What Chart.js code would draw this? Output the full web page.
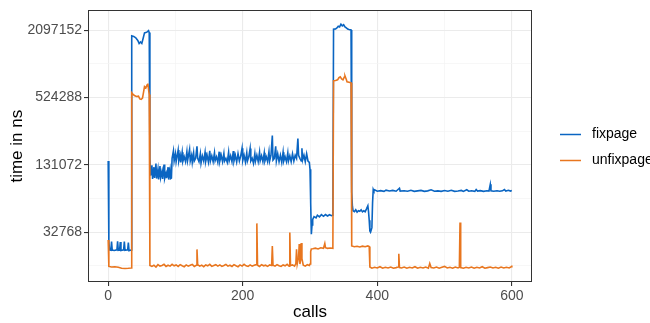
<!DOCTYPE html>
<html>
<head>
<meta charset="utf-8">
<script src="https://cdn.jsdelivr.net/npm/chart.js@4.4.1/dist/chart.umd.min.js"></script>
<style>
  html, body { margin: 0; padding: 0; background: #fff; }
  #wrap { width: 650px; height: 323px; }
</style>
</head>
<body>
<div id="wrap"><canvas id="timing"></canvas></div>
<script>
// fixpage: calls and time in ns
const fixCalls = [
  0, 1, 2, 4, 5, 6, 9, 13, 14, 15, 17, 18, 19, 23, 24, 25, 29, 30, 31, 34,
  35, 38, 41, 44, 46, 48, 50, 52, 54, 56, 58, 60, 61,
  62, 63, 65, 66, 68, 69, 71, 72, 74, 75, 77, 78, 80, 81, 83, 84, 86, 87, 89, 90, 92, 93, 94,
  95, 97, 98, 100, 101, 104, 105, 107, 108, 110, 111, 113, 115, 117, 118, 121, 122, 124, 125, 127, 128, 130,
  132, 133, 135, 137, 138, 140, 142, 144, 145, 147, 149, 151, 152, 154, 156, 158, 159, 161, 163, 165, 166,
  168, 170, 172, 173, 175, 177, 179, 180, 182, 184, 186, 187, 189, 191, 193, 195, 197, 199, 200, 202, 204,
  206, 207, 209, 211, 212, 214, 216, 218, 219, 221, 223, 225, 226, 228, 230, 232, 233, 235, 237, 239, 240,
  242, 244, 245, 247, 249, 250, 252, 254, 256, 258, 260, 261, 263, 265, 267, 268, 270, 272, 274, 276, 278,
  280, 282, 283, 285, 287, 288, 289, 291, 293, 295, 297, 299,
  300, 301, 302, 303, 304, 306, 309, 311, 314, 317, 320, 323, 326, 329, 332, 334,
  335, 338, 340, 342, 344, 346, 348, 350, 352, 354, 356, 358, 361,
  362, 363, 364, 366, 368, 370, 372, 374, 376, 378, 380, 382, 384, 386, 387, 388, 389, 390, 392, 393, 394,
  395, 396, 400, 405, 410, 413, 418, 423, 428, 433, 434, 440, 445, 450, 455, 460, 465, 470, 475, 480, 485,
  490, 495, 500, 505, 510, 515, 520, 525, 528, 533, 536, 540, 545, 547, 549, 553, 558, 563, 566, 568, 569,
  573, 578, 582, 586, 589, 591, 595, 598, 600
];
const fixTime = [
  142000, 27000, 22800, 22600, 27000, 22700, 22500, 22800, 27200, 22600, 22700, 26800, 22500, 22800, 27000, 22600, 22800, 26500, 22400, 22700,
  1870000, 1850000, 1800000, 1700000, 1600000, 1650000, 1600000, 1780000, 1990000, 2000000, 2030000, 2080000, 2000000,
  150000, 105000, 130000, 98000, 125000, 100000, 135000, 99000, 120000, 97000, 128000, 101000, 115000, 98000, 132000, 99000, 110000, 100000, 125000, 97000, 118000, 99000, 100000,
  150000, 175000, 142000, 165000, 140000, 178000, 142000, 160000, 138000, 170000, 141000, 155000, 140000, 172000, 143000, 180000, 142000, 160000, 138000, 168000, 142000, 150000,
  192000, 150000, 140000, 165000, 136000, 158000, 142000, 170000, 141000, 160000, 139000, 175000, 142000, 158000, 140000, 168000, 143000, 155000, 138000, 172000, 142000,
  160000, 140000, 166000, 142000, 150000, 138000, 170000, 143000, 158000, 140000, 174000, 142000, 160000, 139000, 165000, 142000, 158000, 185000, 143000, 160000, 139000,
  168000, 142000, 155000, 184000, 142000, 150000, 135000, 165000, 142000, 160000, 140000, 170000, 143000, 158000, 140000, 168000, 142000, 155000, 140000, 172000, 142000,
  160000, 240000, 145000, 150000, 192000, 142000, 165000, 140000, 160000, 138000, 170000, 142000, 155000, 140000, 168000, 142000, 158000, 140000, 165000, 142000, 160000,
  150000, 226000, 160000, 150000, 142000, 185000, 145000, 160000, 140000, 165000, 142000, 138000,
  120000, 60000, 31500, 38000, 42600, 45200, 44000, 46500, 45000, 47000, 45500, 47100, 45800, 47000, 46000, 46500,
  2150000, 2160000, 2200000, 2280000, 2250000, 2380000, 2300000, 2350000, 2250000, 2200000, 2150000, 2130000, 2110000,
  75000, 56000, 51000, 50000, 52000, 49500, 51000, 50500, 52000, 49800, 51000, 50000, 53000, 56400, 50000, 42000, 33500, 32700, 36000, 60000, 79400,
  77000, 78500, 76300, 77200, 76000, 78000, 76500, 77500, 76200, 81000, 76500, 77000, 76200, 77800, 76000, 76800, 77500, 76000, 76800, 78500, 76300,
  76800, 76000, 77300, 76200, 77800, 76000, 76500, 77500, 76000, 78500, 76200, 77000, 76000, 79000, 76500, 77200, 76000, 77000, 76500, 87800, 77000,
  76200, 77000, 76200, 76800, 79000, 76500, 77800, 76500, 77200
];

// unfixpage
const unfixCalls = [
  0, 1, 5, 10, 15, 20, 25, 30, 34,
  35, 37, 39, 42, 45, 47, 49, 51, 52, 54, 56, 58, 59, 60, 61,
  62, 65, 68, 71, 74, 77, 80, 83, 86, 89, 92, 95, 98, 101, 104, 107, 110, 113, 116, 119, 122, 125, 128,
  131, 132, 133, 136, 139, 142, 145, 148, 151, 154, 157, 160, 163, 166, 169, 172, 175, 178, 181, 184, 187,
  190, 193, 196, 199, 202, 205, 208, 211, 214, 217, 220, 221, 222, 225, 228, 231, 234, 237, 240, 243, 244,
  245, 248, 251, 254, 257, 260, 263, 266, 269, 270, 271, 274, 277, 279, 280, 281, 283, 284, 285, 286, 287,
  288, 290, 293, 296, 299,
  300, 301, 302, 304, 308, 312, 316, 320, 322, 323, 326, 330, 334,
  335, 338, 341, 343, 345, 347, 349, 351, 352, 354, 355, 358, 361,
  362, 366, 370, 374, 378, 382, 386, 388,
  389, 392, 396, 400, 404, 408, 412, 416, 420, 424, 428, 431, 432, 433, 436, 440, 444, 448, 452, 456,
  460, 464, 468, 472, 476, 478, 480, 484, 488, 492, 496, 500, 504, 508, 512, 516, 520, 522, 523, 524,
  528, 532, 536, 540, 544, 548, 552, 556, 560, 564, 568, 572, 576, 580, 584, 588, 592, 596, 599, 600
];
const unfixTime = [
  27900, 16200, 16000, 16100, 15900, 15600, 15500, 15600, 15700,
  580000, 560000, 548000, 537000, 540000, 510000, 505000, 520000, 560000, 657000, 640000, 684000, 700000, 620000, 560000,
  16500, 16200, 16600, 16000, 16800, 16300, 16500, 16900, 16200, 16600, 16300, 16900, 16400, 16700, 16200, 16800, 16400, 16100, 16700, 16300, 16600, 16900, 16200,
  16600, 23000, 16800, 16300, 16600, 16100, 16700, 16400, 16900, 16200, 16500, 16800, 16300, 16700, 16200, 16500, 16900, 16300, 16600, 16200, 16800,
  16400, 16100, 16700, 16300, 16900, 16400, 16200, 16700, 16300, 16600, 16800, 39300, 16600, 16200, 16800, 16400, 16600, 16200, 16700, 16500, 24700,
  16600, 16300, 16800, 16400, 16200, 16700, 16400, 16900, 16300, 32500, 16500, 16700, 16300, 17200, 23000, 17000, 19500, 25700, 17000, 18500, 26200,
  19000, 16600, 16300, 16800, 16500,
  17000, 22000, 23200, 23300, 23600, 23200, 23800, 23500, 26000, 23800, 23500, 23700, 23500,
  741000, 745000, 756000, 790000, 803000, 770000, 756000, 800000, 819000, 760000, 726000, 720000, 712000,
  24700, 24300, 24500, 24200, 24600, 24300, 24700, 24400,
  16000, 15600, 15900, 15700, 16100, 15600, 15900, 15700, 16000, 15600, 15800, 16000, 21000, 15800, 15700, 16000, 15600, 15900, 15700, 16100,
  15600, 15900, 15700, 16000, 15600, 17200, 15800, 15700, 16000, 15600, 15900, 16200, 15700, 15900, 15600, 16000, 15700, 15900, 40000, 15800,
  15600, 15900, 15700, 16000, 15600, 15900, 15700, 16100, 15600, 15800, 16000, 15700, 15900, 15600, 16000, 15700, 15900, 15700, 16100, 16500
];

// axes
const xTicks = [0, 100, 200, 300, 400, 500, 600];
const xLabels = [0, 200, 400, 600];
const yTicks = [16384, 32768, 65536, 131072, 262144, 524288, 1048576, 2097152];
const yLabels = [32768, 131072, 524288, 2097152];

const seriesNames = ['fixpage', 'unfixpage'];
const seriesColors = ['#0a65c2', '#e8761f'];

const toPoints = (xs, ys) => xs.map((x, i) => ({ x: x, y: ys[i] }));

// panel border + legend at the right, like ggplot
const ggExtras = {
  id: 'ggExtras',
  afterDatasetsDraw(chart) {
    const c = chart.ctx, a = chart.chartArea;
    c.save();
    c.strokeStyle = '#333333';
    c.lineWidth = 1;
    c.strokeRect(Math.round(a.left) + 0.5, Math.round(a.top) + 0.5,
      Math.round(a.right - a.left) - 1, Math.round(a.bottom - a.top) - 1);
    c.restore();
  },
  afterDraw(chart) {
    const c = chart.ctx;
    c.save();
    c.font = '14px "Liberation Sans", Arial, sans-serif';
    c.textBaseline = 'middle';
    seriesNames.forEach((name, i) => {
      const y = 134 + i * 26;
      c.strokeStyle = seriesColors[i];
      c.lineWidth = 1.5;
      c.beginPath();
      c.moveTo(560, y + 0.5);
      c.lineTo(581, y + 0.5);
      c.stroke();
      c.fillStyle = '#000000';
      c.fillText(name, 592, y);
    });
    c.restore();
  }
};

const ctx = document.getElementById('timing');
const chart = new Chart(ctx, {
  type: 'line',
  data: {
    datasets: [
      {
        label: seriesNames[0],
        data: toPoints(fixCalls, fixTime),
        borderColor: seriesColors[0],
        backgroundColor: seriesColors[0],
        borderWidth: 1.6,
        pointRadius: 0,
        tension: 0,
        order: 1
      },
      {
        label: seriesNames[1],
        data: toPoints(unfixCalls, unfixTime),
        borderColor: seriesColors[1],
        backgroundColor: seriesColors[1],
        borderWidth: 1.6,
        pointRadius: 0,
        tension: 0,
        order: 0
      }
    ]
  },
  options: {
    responsive: true,
    maintainAspectRatio: false,
    animation: false,
    layout: { padding: { left: 0, right: 118, top: 4, bottom: 0 } },
    plugins: {
      legend: { display: false },
      tooltip: { enabled: false }
    },
    scales: {
      x: {
        type: 'linear',
        min: -30,
        max: 630,
        afterBuildTicks: (s) => { s.ticks = xTicks.map(v => ({ value: v })); },
        afterFit: (s) => { s.height = 41; },
        grid: {
          color: (c) => xLabels.includes(c.tick && c.tick.value) ? '#ebebeb' : '#f4f4f4',
          lineWidth: (c) => xLabels.includes(c.tick && c.tick.value) ? 1.1 : 0.7,
          tickColor: (c) => xLabels.includes(c.tick && c.tick.value) ? '#333333' : 'rgba(0,0,0,0)',
          tickLength: 4
        },
        border: { display: false },
        ticks: {
          autoSkip: false,
          maxRotation: 0,
          padding: 2,
          color: '#4d4d4d',
          font: { family: '"Liberation Sans", Arial, sans-serif', size: 14 },
          callback: (v) => xLabels.includes(v) ? String(v) : ''
        },
        title: {
          display: true,
          text: 'calls',
          color: '#000000',
          font: { family: '"Liberation Sans", Arial, sans-serif', size: 17 },
          padding: { top: 0, bottom: 0 }
        }
      },
      y: {
        type: 'logarithmic',
        min: 11750,
        max: 3160000,
        afterBuildTicks: (s) => { s.ticks = yTicks.map(v => ({ value: v })); },
        afterFit: (s) => { s.width = 88; },
        grid: {
          color: (c) => yLabels.includes(c.tick && c.tick.value) ? '#ebebeb' : '#f4f4f4',
          lineWidth: (c) => yLabels.includes(c.tick && c.tick.value) ? 1.1 : 0.7,
          tickColor: (c) => yLabels.includes(c.tick && c.tick.value) ? '#333333' : 'rgba(0,0,0,0)',
          tickLength: 4
        },
        border: { display: false },
        ticks: {
          autoSkip: false,
          padding: 2,
          color: '#4d4d4d',
          font: { family: '"Liberation Sans", Arial, sans-serif', size: 14 },
          callback: (v) => yLabels.includes(v) ? String(v) : ''
        },
        title: {
          display: true,
          text: 'time in ns',
          color: '#000000',
          font: { family: '"Liberation Sans", Arial, sans-serif', size: 17 },
          padding: { top: 7, bottom: 0 }
        }
      }
    }
  },
  plugins: [ggExtras]
});
</script>
</body>
</html>
